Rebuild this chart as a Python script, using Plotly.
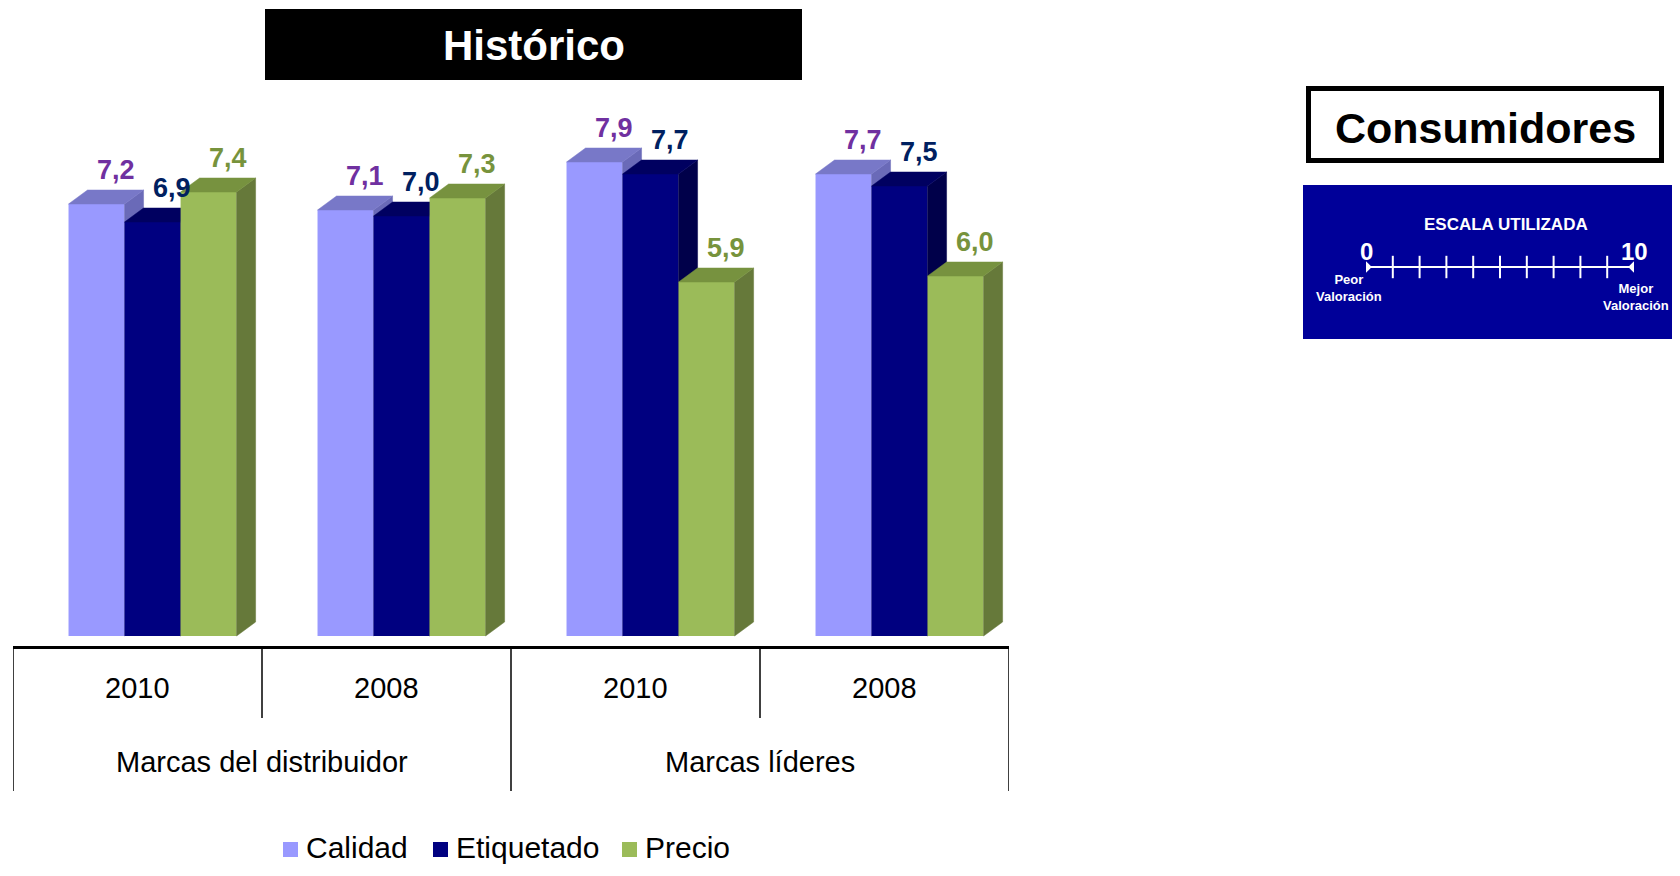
import plotly.graph_objects as go

# ---------------- data ----------------
groups = ["Marcas del distribuidor", "Marcas líderes"]
years = ["2010", "2008", "2010", "2008"]
group_of_cat = [0, 0, 1, 1]
series_names = ["Calidad", "Etiquetado", "Precio"]
calidad = [7.2, 7.1, 7.9, 7.7]
etiquetado = [6.9, 7.0, 7.7, 7.5]
precio = [7.4, 7.3, 5.9, 6.0]
scale_values = list(range(0, 11))
scale_end_labels = ["0", "10"]

series_values = [calidad, etiquetado, precio]

# ---------------- style ----------------
PAGE_MARGIN = 8                      # default body margin of the page
W, H = 1680 - 2 * PAGE_MARGIN, 876 - 2 * PAGE_MARGIN
FONT = "Liberation Sans, Arial, sans-serif"
front_colors = ["#9999FF", "#000080", "#9BBB59"]
top_colors = ["#7878C8", "#000060", "#77923F"]
side_colors = ["#6A6AB8", "#00004A", "#66793A"]
label_colors = ["#7030A0", "#002060", "#77933C"]
legend_left_px = [283, 433, 622]

BAR_W = 0.225
OFFSETS = [-0.277, -0.052, 0.173]
DX = 19 / 249.0      # depth offset in category units
DY = 14 / 60.0       # depth offset in value units


def px_x(p):          # screen pixel -> paper fraction
    return (p - PAGE_MARGIN) / W


def px_y(p):
    return 1 - (p - PAGE_MARGIN) / H


def fmt(v):
    return f"{v:.1f}".replace(".", ",")


cats = list(range(len(years)))
fig = go.Figure()

yaxes = ["y", "y2", "y3"]
for i, (name, vals) in enumerate(zip(series_names, series_values)):
    ya = yaxes[i]
    fig.add_trace(go.Bar(
        x=cats, y=vals, offset=OFFSETS[i], width=BAR_W,
        marker=dict(color=front_colors[i], line=dict(width=0)),
        name=name, xaxis="x", yaxis=ya, hoverinfo="skip", showlegend=False,
    ))
    tx, ty, sx, sy = [], [], [], []
    for c, v in zip(cats, vals):
        xl = c + OFFSETS[i]
        xr = xl + BAR_W
        tx += [xl, xr, xr + DX, xl + DX, xl, None]
        ty += [v, v, v + DY, v + DY, v, None]
        sx += [xr, xr, xr + DX, xr + DX, xr, None]
        sy += [0, v, v + DY, DY, 0, None]
    fig.add_trace(go.Scatter(
        x=sx, y=sy, mode="lines", fill="toself", fillcolor=side_colors[i],
        line=dict(width=0.5, color=side_colors[i]), xaxis="x", yaxis=ya,
        showlegend=False, hoverinfo="skip"))
    fig.add_trace(go.Scatter(
        x=tx, y=ty, mode="lines", fill="toself", fillcolor=top_colors[i],
        line=dict(width=0.5, color=top_colors[i]), xaxis="x", yaxis=ya,
        showlegend=False, hoverinfo="skip"))

# scale in the blue panel
fig.add_trace(go.Scatter(
    x=[scale_values[0], scale_values[-1]], y=[0, 0], mode="lines",
    line=dict(color="white", width=2), xaxis="x2", yaxis="y4",
    showlegend=False, hoverinfo="skip"))
fig.add_trace(go.Scatter(
    x=scale_values[1:-1], y=[0] * (len(scale_values) - 2), mode="markers",
    marker=dict(symbol="line-ns", size=16, line=dict(color="white", width=2)),
    xaxis="x2", yaxis="y4", showlegend=False, hoverinfo="skip"))
fig.add_trace(go.Scatter(
    x=[scale_values[0], scale_values[-1]], y=[0, 0], mode="markers",
    marker=dict(symbol="diamond", size=9, color="white"),
    xaxis="x2", yaxis="y4", showlegend=False, hoverinfo="skip"))

annotations = []
# value labels
for i, vals in enumerate(series_values):
    for c, v in zip(cats, vals):
        annotations.append(dict(
            x=c + OFFSETS[i] + BAR_W / 2 + DX, y=v + DY, xref="x", yref="y",
            text=f"<b>{fmt(v)}</b>", showarrow=False, xanchor="center",
            yanchor="bottom", yshift=3,
            font=dict(family=FONT, size=27, color=label_colors[i])))


def paper_text(x, y, text, size, color, xref="paper", xanchor="center",
               yanchor="middle"):
    return dict(x=x, y=y, xref=xref, yref="paper", text=text, showarrow=False,
                xanchor=xanchor, yanchor=yanchor,
                font=dict(family=FONT, size=size, color=color))


# category labels
for c, yr in zip(cats, years):
    annotations.append(paper_text(c, px_y(688), yr, 29, "black", xref="x"))
for g, gname in enumerate(groups):
    members = [c for c in cats if group_of_cat[c] == g]
    annotations.append(paper_text(sum(members) / len(members), px_y(762),
                                  gname, 29, "black", xref="x"))

shapes = []
# dividers of the category axis
for k in range(len(cats) + 1):
    b = k - 0.5
    is_group_edge = (k == 0 or k == len(cats) or group_of_cat[k] != group_of_cat[k - 1])
    shapes.append(dict(
        type="line", xref="x", yref="paper", x0=b, x1=b, y0=px_y(646),
        y1=px_y(791 if is_group_edge else 718),
        line=dict(color="black", width=1.5)))

# legend (squares + names), kept fully inside the figure
for i, name in enumerate(series_names):
    lx = legend_left_px[i]
    shapes.append(dict(type="rect", xref="paper", yref="paper",
                       x0=px_x(lx), x1=px_x(lx + 15), y0=px_y(857), y1=px_y(842),
                       fillcolor=front_colors[i], line=dict(width=0)))
    annotations.append(paper_text(px_x(lx + 21), px_y(866), name, 30, "black",
                                  xanchor="left", yanchor="bottom"))

# title box
shapes.append(dict(type="rect", xref="paper", yref="paper",
                   x0=px_x(265), x1=px_x(802), y0=px_y(80), y1=px_y(9),
                   fillcolor="black", line=dict(width=0), layer="below"))
annotations.append(paper_text(px_x(534), px_y(45), "<b>Histórico</b>", 42, "white"))

# Consumidores box
shapes.append(dict(type="rect", xref="paper", yref="paper",
                   x0=px_x(1308.5), x1=px_x(1661.5), y0=px_y(160.5), y1=px_y(88.5),
                   fillcolor="white", line=dict(color="black", width=5)))
annotations.append(paper_text(px_x(1485), px_y(128), "<b>Consumidores</b>", 43, "black"))

# blue panel
shapes.append(dict(type="rect", xref="paper", yref="paper", layer="below",
                   x0=px_x(1303), x1=px_x(1680), y0=px_y(339), y1=px_y(185),
                   fillcolor="#000099", line=dict(width=0)))
annotations.append(paper_text(px_x(1506), px_y(224), "<b>ESCALA UTILIZADA</b>", 17, "white"))
annotations.append(paper_text(scale_values[0], px_y(252), f"<b>{scale_end_labels[0]}</b>",
                              24, "white", xref="x2"))
annotations.append(paper_text(scale_values[-1], px_y(252), f"<b>{scale_end_labels[1]}</b>",
                              24, "white", xref="x2"))
annotations.append(paper_text(px_x(1349), px_y(288), "<b>Peor<br>Valoración</b>", 13, "white"))
annotations.append(paper_text(px_x(1636), px_y(297), "<b>Mejor<br>Valoración</b>", 13, "white"))

y_domain = [px_y(646), px_y(36)]
y_range = [-10 / 60.0, 10]
hidden_y = dict(range=y_range, visible=False, showgrid=False, zeroline=False, fixedrange=True)

fig.update_layout(
    width=W, height=H, autosize=False,
    margin=dict(l=0, r=0, t=0, b=0, pad=0, autoexpand=False),
    paper_bgcolor="white", plot_bgcolor="rgba(0,0,0,0)",
    barmode="overlay",
    font=dict(family=FONT, color="black"),
    xaxis=dict(domain=[px_x(13), px_x(1009)], range=[-0.5, len(cats) - 0.5],
               showline=True, linecolor="black", linewidth=2.5,
               showticklabels=False, ticks="", showgrid=False, zeroline=False,
               anchor="y"),
    yaxis=dict(domain=y_domain, anchor="x", **hidden_y),
    yaxis2=dict(overlaying="y", anchor="x", **hidden_y),
    yaxis3=dict(overlaying="y", anchor="x", **hidden_y),
    xaxis2=dict(domain=[px_x(1366), px_x(1634)], range=[0, 10], visible=False,
                anchor="y4"),
    yaxis4=dict(domain=[px_y(287), px_y(247)], range=[-1, 1], visible=False,
                anchor="x2"),
    showlegend=False,
    shapes=shapes,
    annotations=annotations,
)

fig.write_html("out.html", config={"displayModeBar": False})
